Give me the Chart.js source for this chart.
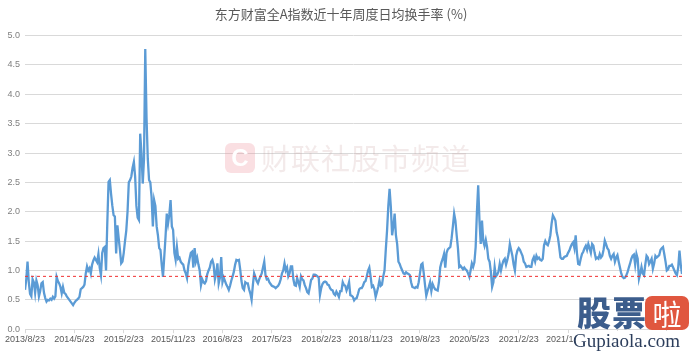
<!DOCTYPE html>
<html>
<head>
<meta charset="utf-8">
<script src="https://cdn.jsdelivr.net/npm/chart.js@4/dist/chart.umd.min.js"></script>
<style>
    body { margin: 0; background: #fff; }
    #wrap { position: relative; width: 692px; height: 352px; }
    .mark { position: absolute; pointer-events: none; font-family: "Noto Sans CJK SC", sans-serif; }
    #clsBox { left: 225px; top: 143px; width: 30px; height: 30px; border-radius: 6px; background: rgba(240, 150, 160, 0.3); color: #fff; font: bold 24px "Liberation Sans", sans-serif; text-align: center; line-height: 30px; }
    #clsText { left: 261px; top: 139px; font-size: 29px; line-height: 36px; color: rgba(200, 160, 160, 0.22); letter-spacing: 1px; }
    #gpl { left: 573px; top: 293px; width: 119px; height: 59px; }
    #gpl .gp { position: absolute; left: 4px; top: 0; font-size: 34px; line-height: 38px; font-weight: 900; color: #3c5d8c; letter-spacing: 1px; }
    #gpl .la { position: absolute; left: 72px; top: 3px; width: 44px; height: 34px; border-radius: 7px; background: #e0573f; color: #fff; font-size: 29px; line-height: 34px; text-align: center; }
    #gpl .url { position: absolute; left: 0; top: 38px; width: 119px; height: 21px; background: #fff; font: 19px "Liberation Serif", "DejaVu Serif", serif; color: #2c3e5c; line-height: 20px; }
</style>
</head>
<body>
<div id="wrap">
    <canvas id="turnoverChart" width="692" height="352"></canvas>
    <div class="mark" id="clsBox">C</div>
    <div class="mark" id="clsText">财联社股市频道</div>
    <div class="mark" id="gpl">
        <div class="gp">股票</div>
        <div class="la">啦</div>
        <div class="url">Gupiaola.com</div>
    </div>
</div>
<script>
// 周度日均换手率 (%), 2013/8/23 起每周一个点
const turnover2013 = [
    0.67, 0.85, 1.15, 0.8, 0.6, 0.56, 0.85, 0.8, 0.62, 0.83,
    0.75, 0.56, 0.65, 0.78, 0.8, 0.62, 0.53, 0.47, 0.5, 0.49,
    0.52, 0.5, 0.55, 0.52, 0.56, 0.89, 0.82, 0.78, 0.72, 0.61,
    0.72, 0.62, 0.6, 0.56, 0.53, 0.5, 0.47, 0.44, 0.41, 0.45,
    0.48, 0.5, 0.52, 0.55, 0.68, 0.7, 0.72, 0.76, 0.95, 1.07,
    1.0, 1.04, 0.95, 1.1, 1.17, 1.22, 1.18, 1.14, 1.28, 1.05,
    0.92, 1.3, 1.38, 1.4, 1.0, 1.8, 2.51, 2.54, 2.3, 2.1,
    1.94, 1.92, 1.29, 1.77, 1.55, 1.35, 1.12, 1.15, 1.3, 1.5,
    1.68, 2.0, 2.5, 2.54, 2.6, 2.75, 2.85, 2.6, 2.1, 1.9,
    1.86, 3.33, 3.0, 2.48, 2.9, 4.77, 3.6, 2.9, 2.54, 2.5,
    2.25, 1.75, 2.2, 2.1, 1.75, 1.6, 1.38, 1.35, 1.1, 0.89,
    1.23, 1.57, 1.97, 1.8, 1.95, 2.2, 1.75, 1.69, 1.3, 1.18,
    1.4, 1.2, 1.22, 1.15, 1.12, 1.1, 1.0, 0.95, 0.87, 1.08
];

const turnover2016 = [
    1.2, 1.3, 1.32, 1.05, 1.38, 1.15, 1.22, 1.1, 1.0, 0.75,
    0.85, 0.8, 0.78, 0.82, 0.94, 1.0, 1.05, 1.15, 1.18, 1.1,
    0.85, 0.95, 1.12, 0.78, 0.88, 1.23, 0.8, 0.88, 0.82, 0.76,
    0.72, 0.67, 0.74, 0.83, 0.9, 0.98, 1.1, 1.18, 1.17, 1.18,
    1.02, 0.82, 0.7, 0.67, 0.8, 0.78, 0.78, 0.68, 0.61, 0.5,
    0.75, 0.95, 0.89, 0.82, 0.78, 0.85, 0.9, 0.95, 1.05, 1.15,
    0.92, 0.85, 0.86, 0.8, 0.77, 0.74, 0.73, 0.72, 0.7, 0.72,
    0.74, 0.78, 0.85, 0.95, 1.0, 1.12, 1.0, 1.05, 0.9, 0.95,
    1.07, 1.07, 0.85, 0.75, 0.74, 0.87, 0.8, 0.72, 0.9, 0.85,
    0.83, 0.75, 0.7, 0.63, 0.61, 0.72, 0.84, 0.86, 0.93, 0.93,
    0.92, 0.9, 0.88, 0.58, 0.7, 0.77, 0.8, 0.81, 0.8, 0.76,
    0.75, 0.7, 0.67, 0.66, 0.6, 0.58, 0.64, 0.6, 0.55, 0.65
];

const turnover2018 = [
    0.65, 0.8, 0.75, 0.74, 0.66, 0.72, 0.8, 0.58, 0.57, 0.55,
    0.49, 0.52, 0.53, 0.6, 0.68, 0.7, 0.7, 0.74, 0.8, 0.82,
    0.9, 1.0, 1.05, 0.9, 0.72, 0.74, 0.68, 0.55, 0.63, 0.72,
    0.83, 0.74, 0.76, 0.9, 1.0, 1.35, 1.68, 2.1, 2.39, 2.08,
    1.6, 1.75, 1.97, 1.6, 1.45, 1.15, 1.11, 1.05, 1.0, 0.95,
    0.94, 0.97, 0.95, 0.94, 0.92, 0.8, 0.72, 0.71, 0.7, 0.72,
    0.71, 0.8, 0.95, 1.1, 1.12, 0.95, 0.75, 0.57, 0.65, 0.72,
    0.8, 0.65, 0.77, 0.72, 0.68, 0.67, 0.66, 0.8, 1.05, 1.14,
    1.2, 1.28, 1.05, 1.3, 1.36, 1.38, 1.4, 1.55, 1.75, 1.97,
    1.85, 1.6, 1.38, 1.06, 1.08, 1.05, 1.02, 1.05, 1.02, 1.0,
    0.95, 0.89, 1.0, 1.12, 1.06, 1.14, 1.4, 2.0, 2.45, 1.85,
    1.45, 1.85, 1.5, 1.42, 1.52, 1.4, 1.2, 1.15, 0.98, 0.72,
    0.8, 1.06, 0.9, 0.93, 0.98, 1.11, 1.0, 1.1, 1.17, 1.2,
    1.1, 1.18, 1.28, 1.45, 1.35, 1.25, 1.1, 1.0, 1.25, 1.34
];

const turnover2021 = [
    1.38, 1.35, 1.3, 1.25, 1.15, 1.12, 1.06, 1.07, 1.08, 1.06,
    1.06, 1.18, 1.23, 1.15, 1.25, 1.2, 1.22, 1.18, 1.17, 1.2,
    1.43, 1.5, 1.45, 1.43, 1.5, 1.6, 1.8, 1.94, 1.9, 1.85,
    1.65, 1.56, 1.4, 1.22, 1.2, 1.2, 1.23, 1.24, 1.25, 1.3,
    1.34, 1.4, 1.45, 1.48, 1.38, 1.6, 1.3, 1.11, 1.1, 1.2,
    1.28, 1.32, 1.38, 1.42, 1.35, 1.45, 1.38, 1.3, 1.45, 1.42,
    1.3, 1.2, 1.22, 1.2, 1.28, 1.22, 1.25, 1.35, 1.51, 1.45,
    1.38, 1.35, 1.25, 1.2, 1.25, 1.28, 1.15, 1.22, 1.26, 1.15,
    1.05, 0.95, 0.89, 0.87, 0.88, 0.92, 0.97, 1.05, 1.12, 1.2,
    1.25, 1.27, 1.1, 1.28, 1.2, 0.86, 0.95, 1.06, 0.95, 0.92,
    1.1, 1.25, 1.22, 1.11, 1.15, 1.2, 1.03, 1.12, 1.25, 1.22,
    1.24, 1.26, 1.35, 1.38, 1.4, 1.28, 1.15, 1.0, 1.02, 1.08,
    1.08, 1.1, 1.05, 1.0, 0.95, 0.92, 1.05, 1.34, 1.1, 0.94
];

// 横轴标签，每 39 周一个
const tickLabels = [
    "2013/8/23", "2014/5/23", "2015/2/23", "2015/11/23", "2016/8/23",
    "2017/5/23", "2018/2/23", "2018/11/23", "2019/8/23", "2020/5/23",
    "2021/2/23", "2021/11/23", "2022/8/23", "2023/5/23"
];
const tickStep = 39;

// 十年均值参考线
const averageTurnover = 0.9;

const turnover = [...turnover2013, ...turnover2016, ...turnover2018, ...turnover2021];
const lastIndex = turnover.length - 1;

const gridColor = '#d9d9d9';
const textColor = '#595959';

const renderTurnoverChart = () => {

    const data = {
        datasets: [{
            data: turnover.map((v, i) => ({ x: i, y: v })),
            borderColor: '#5b9bd5',
            borderWidth: 2.3,
            pointRadius: 0,
            tension: 0,
            order: 1
        }, {
            data: [{ x: 0, y: averageTurnover }, { x: lastIndex, y: averageTurnover }],
            borderColor: '#f03030',
            borderWidth: 1,
            borderDash: [3, 3],
            pointRadius: 0,
            order: 0
        }]
    }

    const options = {
        responsive: false,
        animation: false,
        layout: { padding: { left: 0, right: 10, top: 0, bottom: 6 } },
        plugins: {
            legend: { display: false },
            tooltip: { enabled: false },
            title: {
                display: true,
                text: '东方财富全A指数近十年周度日均换手率 (%)',
                color: textColor,
                font: { family: '"Noto Sans CJK SC", sans-serif', size: 13, weight: 'normal' },
                padding: { top: 6, bottom: 14 }
            }
        },
        scales: {
            x: {
                type: 'linear',
                min: 0,
                max: lastIndex,
                border: { color: gridColor },
                grid: { drawOnChartArea: false, color: gridColor, tickLength: 4 },
                ticks: {
                    stepSize: tickStep,
                    includeBounds: false,
                    autoSkip: false,
                    maxRotation: 0,
                    padding: 1,
                    color: textColor,
                    font: { family: '"Liberation Sans", sans-serif', size: 9 },
                    callback: v => tickLabels[v / tickStep] || ''
                }
            },
            y: {
                min: 0,
                max: 5,
                border: { display: false },
                grid: { color: gridColor, drawTicks: false },
                ticks: {
                    stepSize: 0.5,
                    padding: 5,
                    color: '#7f7f7f',
                    font: { family: '"Liberation Sans", sans-serif', size: 9 },
                    callback: v => v.toFixed(1)
                },
                afterFit: scale => { scale.width = 25; }
            }
        }
    }

    new Chart('turnoverChart', { type: 'line', data, options })
}

renderTurnoverChart();
</script>
</body>
</html>
